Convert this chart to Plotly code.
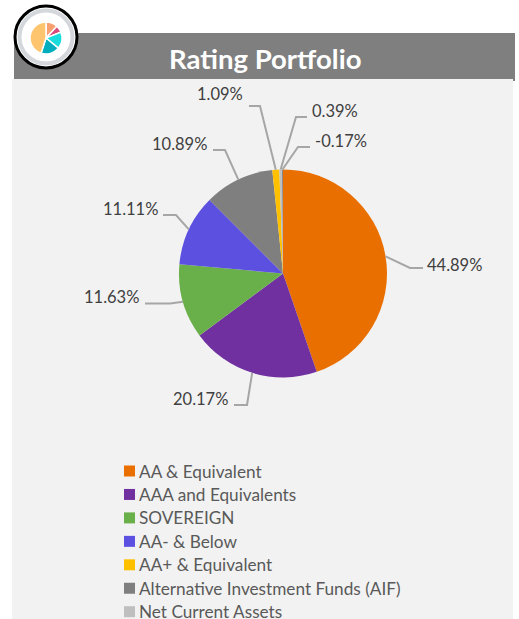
import math
import plotly.graph_objects as go

W, H = 519, 619

# ---- data ----
categories = ["AA & Equivalent", "AAA and Equivalents", "SOVEREIGN", "AA- & Below",
              "Alternative Investment Funds (AIF)", "AA+ & Equivalent", "Net Current Assets", "Other"]
values = [44.89, 20.17, 11.63, 11.11, 10.89, 1.09, 0.39, -0.17]
legend_names = ["AA & Equivalent", "AAA and Equivalents", "SOVEREIGN", "AA- & Below",
                "AA+ & Equivalent", "Alternative Investment Funds (AIF)", "Net Current Assets"]
icon_values = [12, 7, 17, 19, 45]

# ---- styles / layout ----
color_of = {
    "AA & Equivalent": "#E97000", "AAA and Equivalents": "#7030A0", "SOVEREIGN": "#6AB04A",
    "AA- & Below": "#5B50E0", "AA+ & Equivalent": "#FFC000",
    "Alternative Investment Funds (AIF)": "#7F7F7F", "Net Current Assets": "#BFBFBF", "Other": "#8A8A8A",
}
icon_colors = ["#F9A070", "#D8487A", "#19DCDC", "#00AEBD", "#FFC56E"]
FONT = "Lato"
CX, CY, R = 283, 273.5, 104
# elbow x, elbow y, end x, label x, label y, anchor
label_layout = [
    (410, 268, 423, 425, 265, "left"),
    (247, 405, 234, 230, 399, "right"),
    (170, 303.5, 145, 141, 297, "right"),
    (176, 215, 163, 160, 209, "right"),
    (225, 150, 213, 209, 144, "right"),
    (260, 106, 249, 245, 94, "right"),
    (296, 117, 307, 310, 111, "left"),
    (298, 147, 310, 313, 141, "left"),
]
LEG_Y0, LEG_DY = 471, 23.45


def px(x):
    return x / W


def py(y):
    return 1 - y / H


def pie_domain(cx, cy, r):
    return dict(x=[px(cx - r), px(cx + r)], y=[py(cy + r), py(cy - r)])


fig = go.Figure()
magn = [abs(v) for v in values]
total = sum(magn)
fig.add_trace(go.Pie(
    labels=categories, values=magn, sort=False, direction="clockwise", rotation=0,
    marker=dict(colors=[color_of[c] for c in categories], line=dict(width=0)),
    textinfo="none", hoverinfo="label+percent",
    showlegend=False, domain=pie_domain(CX, CY, R),
))

shapes = [
    dict(type="rect", xref="paper", yref="paper", x0=px(14), x1=px(515), y0=py(81), y1=py(33),
         fillcolor="#7F7F7F", line_width=0, layer="below"),
    dict(type="rect", xref="paper", yref="paper", x0=px(12), x1=px(513), y0=py(619), y1=py(79),
         fillcolor="#F2F2F2", line_width=0, layer="below"),
    dict(type="circle", xref="paper", yref="paper", x0=px(15), x1=px(77), y0=py(68), y1=py(6),
         fillcolor="#FFFFFF", line=dict(color="#000000", width=3), layer="below"),
    dict(type="circle", xref="paper", yref="paper", x0=px(19.5), x1=px(72.5), y0=py(63.5), y1=py(10.5),
         fillcolor="#FFFFFF", line=dict(color="#D4D7DB", width=4), layer="below"),
]
annotations = [dict(text="<b>Rating Portfolio</b>", xref="paper", yref="paper", x=px(264.5), y=py(58),
                    showarrow=False, xanchor="center", yanchor="middle",
                    font=dict(family=FONT, size=27.5, color="#FFFFFF"))]

# leader lines and value labels, anchored on each slice's mid-angle
cum = 0
for v, m, (ex, ey, endx, lx, ly, anc) in zip(values, magn, label_layout):
    a = 2 * math.pi * (cum + m / 2) / total
    cum += m
    sx, sy = CX + R * math.sin(a), CY - R * math.cos(a)
    path = f"M {px(sx)} {py(sy)} L {px(ex)} {py(ey)} L {px(endx)} {py(ey)}"
    shapes.append(dict(type="path", path=path, xref="paper", yref="paper",
                       line=dict(color="#A6A6A6", width=2)))
    annotations.append(dict(text=f"{v:.2f}%", xref="paper", yref="paper", x=px(lx), y=py(ly),
                            showarrow=False, xanchor=anc, yanchor="middle",
                            font=dict(family=FONT, size=16.5, color="#404040")))

# legend
for i, name in enumerate(legend_names):
    yc = LEG_Y0 + i * LEG_DY
    shapes.append(dict(type="rect", xref="paper", yref="paper", x0=px(124), x1=px(135),
                       y0=py(yc + 5.5), y1=py(yc - 5.5), fillcolor=color_of[name], line_width=0))
    annotations.append(dict(text=name, xref="paper", yref="paper", x=px(137), y=py(yc),
                            showarrow=False, xanchor="left", yanchor="middle",
                            font=dict(family=FONT, size=17.2, color="#595959")))

# icon pie
fig.add_trace(go.Pie(
    values=icon_values, sort=False, direction="clockwise", rotation=0,
    marker=dict(colors=icon_colors, line=dict(color="#FFFFFF", width=1.5)), textinfo="none",
    hoverinfo="skip", showlegend=False, domain=pie_domain(46, 38, 16),
))

fig.update_layout(width=W, height=H, margin=dict(l=0, r=0, t=0, b=0), autosize=False,
                  paper_bgcolor="#FFFFFF", plot_bgcolor="#FFFFFF",
                  shapes=shapes, annotations=annotations)
fig.write_html("out.html", config=dict(displayModeBar=False),
               post_script="document.body.style.margin='0';document.body.style.overflow='hidden';")
